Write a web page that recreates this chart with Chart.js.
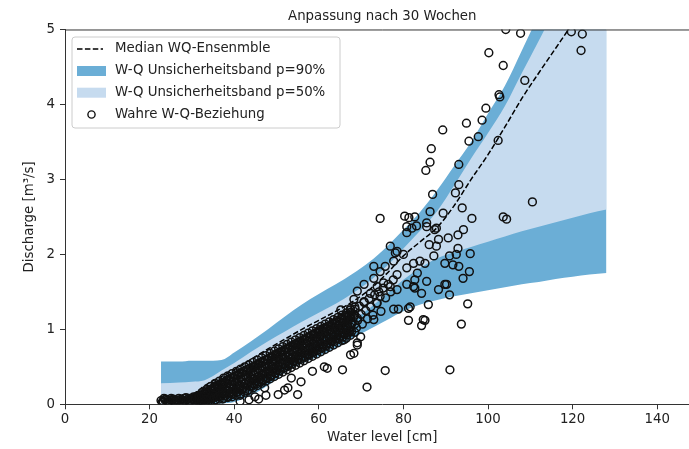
<!DOCTYPE html>
<html>
<head>
<meta charset="utf-8">
<script src="https://cdn.jsdelivr.net/npm/chart.js@4"></script>
<style>
  html, body { margin: 0; padding: 0; width: 689px; height: 449px; overflow: hidden; background: #fff; }
  canvas { display: block; }
</style>
</head>
<body>
<canvas id="wqChart" width="705" height="449"></canvas>
<script>
// Water level grid used for the ensemble bands [cm]
const bandLevel = [22.7, 27, 30, 33, 37, 40, 44, 48, 52, 56, 60, 64, 68, 72, 76, 80, 84, 88, 92, 96, 100, 104, 108, 112, 116, 120, 124, 128];
const upper90 = [0.57, 0.57, 0.58, 0.58, 0.59, 0.69, 0.84, 1.0, 1.17, 1.33, 1.47, 1.6, 1.74, 1.9, 2.1, 2.33, 2.57, 2.86, 3.18, 3.5, 3.88, 4.25, 4.72, 5.2, 5.7, 6.2, 6.7, 7.2];
const upper50 = [0.28, 0.29, 0.3, 0.32, 0.45, 0.55, 0.7, 0.84, 0.97, 1.1, 1.22, 1.34, 1.48, 1.64, 1.84, 2.08, 2.32, 2.58, 2.92, 3.28, 3.62, 3.98, 4.42, 4.85, 5.3, 5.8, 6.3, 6.8];
const medianQ = [0.04, 0.07, 0.12, 0.25, 0.37, 0.46, 0.6, 0.74, 0.87, 1.0, 1.12, 1.24, 1.37, 1.53, 1.74, 1.98, 2.17, 2.36, 2.65, 3.0, 3.33, 3.7, 4.08, 4.42, 4.75, 5.08, 5.4, 5.72];
const lower50 = [0.0, 0.0, 0.01, 0.03, 0.06, 0.12, 0.24, 0.38, 0.55, 0.7, 0.84, 0.98, 1.12, 1.28, 1.47, 1.66, 1.82, 1.95, 2.03, 2.1, 2.17, 2.24, 2.31, 2.37, 2.43, 2.49, 2.55, 2.6];
const lower90 = [0, 0, 0, 0, 0.01, 0.03, 0.12, 0.25, 0.42, 0.54, 0.64, 0.75, 0.88, 1.0, 1.12, 1.24, 1.33, 1.39, 1.44, 1.48, 1.52, 1.56, 1.6, 1.63, 1.67, 1.7, 1.73, 1.75];

// observed (true) W-Q pairs: [water level cm, discharge m3/s]
const trueWQ = [
  [22.7,0.05],[23.2,0.04],[23.6,0.06],[24.1,0.05],[24.5,0.03],[24.9,0.06],[25.4,0.05],[25.8,0.04],[26.3,0.06],[26.7,0.05],
  [27.1,0.03],[27.5,0.07],[28,0.05],[28.4,0.04],[28.9,0.06],[29.3,0.08],[29.7,0.05],[30.2,0.07],[30.6,0.04],[30.9,0.1],
  [23.4,0.08],[24.3,0.02],[25.1,0.08],[26,0.02],[26.9,0.08],[27.8,0.02],[28.6,0.09],[29.5,0.03],[30.4,0.1],
  [23,0.03],[23.8,0.07],[24.7,0.04],[25.6,0.07],[26.5,0.03],[27.3,0.06],[28.2,0.08],[29.1,0.04],[29.9,0.08],[30.8,0.06],
  [31.3,0.06],[31.6,0.12],[32,0.05],[32.3,0.09],[32.7,0.14],[33,0.07],[33.3,0.18],[33.6,0.11],[34,0.05],[34.2,0.15],
  [34.5,0.2],[34.8,0.09],[35.1,0.13],[35.4,0.23],[35.6,0.06],[35.9,0.17],[36.2,0.26],[36.5,0.1],[36.8,0.2],[37.1,0.29],
  [37.3,0.07],[37.6,0.14],[37.9,0.24],[38.2,0.32],[38.4,0.1],[38.7,0.18],[39,0.27],[39.2,0.35],[39.5,0.13],[39.8,0.22],
  [40.1,0.38],[40.3,0.3],[40.6,0.16],[40.9,0.25],[41.2,0.41],[41.4,0.12],[41.7,0.33],[42,0.2],[42.3,0.44],[42.5,0.28],
  [42.8,0.37],[43.1,0.18],[43.4,0.47],[43.6,0.31],[43.9,0.4],[44.2,0.24],[44.5,0.5],[44.7,0.34],[45,0.43],[45.3,0.27],
  [45.6,0.53],[45.9,0.37],[46.1,0.46],[46.4,0.3],[46.7,0.57],[47,0.4],[47.2,0.5],[47.5,0.34],[47.8,0.6],[48.1,0.44],
  [48.3,0.53],[48.6,0.37],[48.9,0.64],[49.2,0.48],[49.4,0.57],[49.7,0.41],[50,0.67],[50.3,0.52],[50.5,0.6],[50.8,0.45],
  [51.1,0.7],[51.4,0.56],[51.6,0.63],[51.9,0.49],[52.2,0.74],[52.5,0.59],[52.7,0.66],[53,0.53],[53.3,0.77],[53.6,0.62],
  [53.8,0.7],[54.1,0.57],[54.4,0.8],[54.7,0.65],[54.9,0.73],[55.2,0.6],[55.5,0.84],[55.8,0.69],[56,0.77],[56.3,0.63],
  [56.6,0.87],[56.9,0.72],[57.1,0.8],[57.4,0.66],[57.7,0.9],[58,0.76],[58.2,0.84],[58.5,0.69],[58.8,0.94],[59.1,0.8],
  [59.3,0.87],[59.6,0.72],[59.9,0.98],[60.2,0.83],[60.4,0.91],[60.7,0.76],[61,1.01],[61.3,0.86],[61.5,0.94],[61.8,0.8],
  [62.1,1.04],[62.4,0.9],[62.6,0.98],[62.9,0.84],[63.2,1.08],[63.5,0.93],[63.7,1.01],[64,0.87],[64.3,1.12],[64.6,0.97],
  [64.8,1.05],[65.1,0.9],[65.4,1.15],[65.7,1.0],[65.9,1.09],[66.2,0.94],[66.5,1.19],[66.8,1.04],[67,1.12],[67.3,0.98],
  [67.6,1.23],[67.9,1.08],[68.2,1.16],[68.6,1.27],[68.9,1.02],[69.2,1.12],[69.6,1.31],[70,1.2],[70.3,1.07],[70.7,1.36],
  [71.1,1.25],[71.5,1.14],[71.9,1.41],[72.3,1.3],[72.8,1.19],[73.2,1.46],[73.7,1.35],[74.2,1.5],[74.7,1.24],[75.2,1.55],
  [75.8,1.42],[76.4,1.6],[77,1.5],[77.6,1.66],
  // dense core of the rating curve
  [31.5,0.04],[31.5,0.07],[31.5,0.09],[31.5,0.12],[32.5,0.04],[32.5,0.08],[32.5,0.12],[32.5,0.16],
  [33.5,0.05],[33.5,0.1],[33.5,0.15],[33.5,0.2],[34.5,0.05],[34.5,0.11],[34.5,0.18],[34.5,0.24],
  [35.5,0.06],[35.5,0.13],[35.5,0.21],[35.5,0.28],[36.5,0.07],[36.5,0.15],[36.5,0.23],[36.5,0.31],
  [37.5,0.08],[37.5,0.17],[37.5,0.26],[37.5,0.35],[38.5,0.09],[38.5,0.19],[38.5,0.28],[38.5,0.38],
  [39.5,0.1],[39.5,0.2],[39.5,0.31],[39.5,0.41],[40.5,0.12],[40.5,0.23],[40.5,0.33],[40.5,0.44],
  [41.5,0.14],[41.5,0.25],[41.5,0.36],[41.5,0.47],[42.5,0.16],[42.5,0.27],[42.5,0.39],[42.5,0.5],
  [43.5,0.19],[43.5,0.3],[43.5,0.42],[43.5,0.53],[44.5,0.22],[44.5,0.33],[44.5,0.45],[44.5,0.56],
  [45.5,0.25],[45.5,0.36],[45.5,0.48],[45.5,0.59],[46.5,0.28],[46.5,0.39],[46.5,0.51],[46.5,0.62],
  [47.5,0.31],[47.5,0.42],[47.5,0.54],[47.5,0.65],[48.5,0.34],[48.5,0.45],[48.5,0.57],[48.5,0.68],
  [49.5,0.37],[49.5,0.48],[49.5,0.6],[49.5,0.71],[50.5,0.4],[50.5,0.51],[50.5,0.63],[50.5,0.74],
  [51.5,0.43],[51.5,0.54],[51.5,0.66],[51.5,0.77],[52.5,0.46],[52.5,0.57],[52.5,0.69],[52.5,0.8],
  [53.5,0.49],[53.5,0.6],[53.5,0.72],[53.5,0.83],[54.5,0.52],[54.5,0.63],[54.5,0.75],[54.5,0.86],
  [55.5,0.55],[55.5,0.66],[55.5,0.78],[55.5,0.89],[56.5,0.58],[56.5,0.69],[56.5,0.81],[56.5,0.92],
  [57.5,0.61],[57.5,0.72],[57.5,0.84],[57.5,0.95],[58.5,0.64],[58.5,0.75],[58.5,0.87],[58.5,0.98],
  [59.5,0.67],[59.5,0.78],[59.5,0.9],[59.5,1.01],[60.5,0.7],[60.5,0.81],[60.5,0.93],[60.5,1.04],
  [61.5,0.73],[61.5,0.84],[61.5,0.96],[61.5,1.07],[62.5,0.76],[62.5,0.87],[62.5,0.99],[62.5,1.1],
  [63.5,0.79],[63.5,0.9],[63.5,1.02],[63.5,1.13],[64.5,0.82],[64.5,0.93],[64.5,1.05],[64.5,1.16],
  [65.5,0.85],[65.5,0.96],[65.5,1.08],[65.5,1.19],[66.5,0.88],[66.5,0.99],[66.5,1.11],[66.5,1.22],
  [67.5,0.92],[67.5,1.03],[67.5,1.15],[67.5,1.26],[68.5,0.96],[68.5,1.07],[68.5,1.19],[68.5,1.3],
  [31.75,0.05],[31.75,0.08],[31.75,0.11],[32.75,0.06],[32.75,0.1],[32.75,0.14],[33.75,0.07],[33.75,0.12],[33.75,0.17],
  [34.75,0.08],[34.75,0.15],[34.75,0.21],[35.75,0.1],[35.75,0.17],[35.75,0.25],[36.75,0.11],[36.75,0.19],[36.75,0.27],
  [37.75,0.12],[37.75,0.21],[37.75,0.3],[38.75,0.14],[38.75,0.23],[38.75,0.33],[39.75,0.15],[39.75,0.26],[39.75,0.36],
  [40.75,0.17],[40.75,0.28],[40.75,0.39],[41.75,0.19],[41.75,0.3],[41.75,0.42],[42.75,0.21],[42.75,0.33],[42.75,0.45],
  [43.75,0.24],[43.75,0.36],[43.75,0.48],[44.75,0.27],[44.75,0.39],[44.75,0.51],[45.75,0.3],[45.75,0.42],[45.75,0.54],
  [46.75,0.33],[46.75,0.45],[46.75,0.57],[47.75,0.36],[47.75,0.48],[47.75,0.6],[48.75,0.39],[48.75,0.51],[48.75,0.63],
  [49.75,0.42],[49.75,0.54],[49.75,0.66],[50.75,0.45],[50.75,0.57],[50.75,0.69],[51.75,0.48],[51.75,0.6],[51.75,0.72],
  [52.75,0.51],[52.75,0.63],[52.75,0.75],[53.75,0.54],[53.75,0.66],[53.75,0.78],[54.75,0.57],[54.75,0.69],[54.75,0.81],
  [55.75,0.6],[55.75,0.72],[55.75,0.84],[56.75,0.63],[56.75,0.75],[56.75,0.87],[57.75,0.66],[57.75,0.78],[57.75,0.9],
  [58.75,0.69],[58.75,0.81],[58.75,0.93],[59.75,0.72],[59.75,0.84],[59.75,0.96],[60.75,0.75],[60.75,0.87],[60.75,0.99],
  [61.75,0.78],[61.75,0.9],[61.75,1.02],[62.75,0.81],[62.75,0.93],[62.75,1.05],[63.75,0.84],[63.75,0.96],[63.75,1.08],
  [64.75,0.87],[64.75,0.99],[64.75,1.11],[65.75,0.9],[65.75,1.02],[65.75,1.14],[66.75,0.93],[66.75,1.05],[66.75,1.17],
  [67.75,0.97],[67.75,1.09],[67.75,1.21],
  [32.25,0.05],[32.25,0.11],[33.25,0.07],[33.25,0.15],[34.25,0.08],[34.25,0.19],[35.25,0.09],[35.25,0.22],
  [36.25,0.11],[36.25,0.25],[37.25,0.13],[37.25,0.29],[38.25,0.14],[38.25,0.32],[39.25,0.16],[39.25,0.35],
  [40.25,0.18],[40.25,0.38],[41.25,0.2],[41.25,0.41],[42.25,0.22],[42.25,0.44],[43.25,0.25],[43.25,0.47],
  [44.25,0.28],[44.25,0.5],[45.25,0.31],[45.25,0.53],[46.25,0.34],[46.25,0.56],[47.25,0.37],[47.25,0.59],
  [48.25,0.4],[48.25,0.62],[49.25,0.43],[49.25,0.65],[50.25,0.46],[50.25,0.68],[51.25,0.49],[51.25,0.71],
  [52.25,0.52],[52.25,0.74],[53.25,0.55],[53.25,0.77],[54.25,0.58],[54.25,0.8],[55.25,0.61],[55.25,0.83],
  [56.25,0.64],[56.25,0.86],[57.25,0.67],[57.25,0.89],[58.25,0.7],[58.25,0.92],[59.25,0.73],[59.25,0.95],
  [60.25,0.76],[60.25,0.98],[61.25,0.79],[61.25,1.01],[62.25,0.82],[62.25,1.04],[63.25,0.85],[63.25,1.07],
  [64.25,0.88],[64.25,1.1],[65.25,0.91],[65.25,1.13],[66.25,0.94],[66.25,1.16],[67.25,0.97],[67.25,1.19],
  // scattered low values
  [41.4,0.04],[43.5,0.06],[45.8,0.07],[47.5,0.12],[44.9,0.10],[50.4,0.13],[55,0.13],[52.7,0.22],[47.2,0.22],[51.9,0.19],
  [53.5,0.35],[55.8,0.3],[58.5,0.44],[62,0.48],[65.6,0.46],[61.3,0.5],[67.5,0.66],[68.3,0.68],[71.4,0.23],[75.7,0.45],
  [91,0.46],[93.7,1.07],[95.2,1.34],[81.2,1.12],[84.3,1.05],[85.1,1.12],[85.9,1.33],[77.7,1.27],[78.8,1.27],[81.6,1.3],
  [69.1,0.79],[69.9,0.9],[73,1.13],[66,0.86],[84.7,1.13],[66.7,0.97],[69.1,0.82],[69.1,1.15],[65.2,1.26],[67.5,1.28],
  [81.2,1.28],[68.3,1.4],[70.7,1.37],[72.2,1.48],[74.5,1.44],
  // scattered high values
  [104.2,5.0],[107.7,4.95],[100.2,4.69],[103.6,4.52],[108.7,4.32],[102.6,4.13],[102.8,4.1],[99.5,3.95],[98.6,3.79],[94.9,3.75],
  [89.3,3.66],[97.7,3.57],[102.4,3.52],[95.5,3.51],[86.6,3.41],[86.3,3.23],[85.3,3.12],[93.1,3.2],[93.1,2.93],[92.3,2.82],
  [86.9,2.8],[110.5,2.7],[103.6,2.5],[104.4,2.47],[93.9,2.62],[96.2,2.48],[89.4,2.55],[86.3,2.57],[74.5,2.48],[80.3,2.51],
  [81.3,2.49],[82.7,2.5],[83.1,2.38],[80.8,2.37],[85.5,2.37],[87.8,2.35],[94.2,2.33],[92.9,2.26],[90.6,2.22],[88.3,2.2],
  [86.1,2.13],[92.9,2.08],[95.8,2.01],[87.2,1.98],[90.9,1.98],[92.5,2.0],[91.7,1.86],[89.8,1.88],[93.1,1.84],[95.6,1.77],
  [94.1,1.68],[90.2,1.6],[88.3,1.53],[84.3,1.48],[82.4,1.57],[85.5,1.64],[83.3,1.75],[85.1,1.88],[73,1.84],[76.9,2.11],
  [78.1,2.02],[119.7,4.97],[122.3,4.94],[122,4.72],[80.8,2.29],[77.7,1.91],[83.9,1.91],[75.7,1.84],[74.5,1.77],[78.5,1.73],
  [73,1.68],[82.7,1.66],[70.7,1.6],[69.1,1.51],[73.8,1.35],[82,2.35],[85.5,2.42],[87.4,2.33],[87.8,2.11],[78.5,2.04],
  [80,2.0],[82.4,1.88],[80.8,1.82],[75.3,1.62],[80.8,1.6],[73.8,1.57],[76.9,1.57],[78.5,1.53],[82.7,1.55],[89.8,1.6],
  [90.9,1.46]
];

const FONT = 'DejaVu Sans';
const TXT = '#222';
const DARK = 'rgb(107,174,214)';
const LIGHT = 'rgb(198,219,239)';

const band = (ys) => bandLevel.map((x, i) => ({ x, y: ys[i] }));
const bandStyle = { borderWidth: 0, pointRadius: 0, cubicInterpolationMode: 'monotone' };

// matplotlib-like legend box inside the axes + top spine
const frameLegend = {
  id: 'frameLegend',
  afterDraw(chart) {
    const { ctx, chartArea: a } = chart;
    ctx.save();
    ctx.strokeStyle = '#333';
    ctx.lineWidth = 1;
    ctx.beginPath();
    ctx.moveTo(a.left, a.top + 0.5);
    ctx.lineTo(a.right, a.top + 0.5);
    ctx.stroke();

    ctx.fillStyle = 'rgba(255,255,255,0.8)';
    ctx.strokeStyle = '#cccccc';
    ctx.beginPath();
    ctx.roundRect(72, 37, 268, 91, 3);
    ctx.fill();
    ctx.stroke();

    const rows = [49, 71, 92.7, 114.5];
    ctx.strokeStyle = '#000';
    ctx.lineWidth = 1.5;
    ctx.setLineDash([5.5, 2.4]);
    ctx.beginPath();
    ctx.moveTo(77, rows[0]);
    ctx.lineTo(103, rows[0]);
    ctx.stroke();
    ctx.setLineDash([]);
    ctx.fillStyle = DARK;
    ctx.fillRect(77, rows[1] - 5, 29, 10);
    ctx.fillStyle = LIGHT;
    ctx.fillRect(77, rows[2] - 5, 29, 10);
    ctx.lineWidth = 1.4;
    ctx.strokeStyle = '#111';
    ctx.beginPath();
    ctx.arc(91.5, rows[3], 3.6, 0, Math.PI * 2);
    ctx.stroke();

    ctx.fillStyle = TXT;
    ctx.font = `13.33px "${FONT}"`;
    ctx.textBaseline = 'middle';
    ctx.textAlign = 'left';
    [1, 4, 2, 0].forEach((di, r) => ctx.fillText(chart.data.datasets[di].label, 115, rows[r]));
    ctx.restore();
  },
};

new Chart(document.getElementById('wqChart'), {
  type: 'line',
  data: {
    datasets: [
      {
        label: 'Wahre W-Q-Beziehung',
        data: trueWQ.map(([x, y]) => ({ x, y })),
        showLine: false,
        pointRadius: 3.9,
        pointBorderWidth: 1.5,
        pointBorderColor: '#111',
        pointBackgroundColor: 'rgba(0,0,0,0)',
        clip: 0,
      },
      {
        label: 'Median WQ-Ensenmble',
        data: band(medianQ),
        borderColor: '#000',
        borderWidth: 1.5,
        borderDash: [5.5, 2.4],
        pointRadius: 0,
        cubicInterpolationMode: 'monotone',
      },
      { label: 'W-Q Unsicherheitsband p=50%', data: band(upper50), fill: '+1', backgroundColor: LIGHT, ...bandStyle },
      { label: 'lower50', data: band(lower50), fill: false, ...bandStyle },
      { label: 'W-Q Unsicherheitsband p=90%', data: band(upper90), fill: '+1', backgroundColor: DARK, ...bandStyle },
      { label: 'lower90', data: band(lower90), fill: false, ...bandStyle },
    ],
  },
  options: {
    responsive: false,
    animation: false,
    events: [],
    layout: { padding: { left: 0, right: 0.7, top: 0, bottom: 0 } },
    plugins: {
      legend: { display: false },
      tooltip: { enabled: false },
      title: {
        display: true,
        text: 'Anpassung nach 30 Wochen',
        fullSize: false,
        color: TXT,
        font: { family: FONT, size: 13.33, weight: 'normal' },
        padding: { top: 9, bottom: 4.5 },
      },
    },
    scales: {
      x: {
        type: 'linear',
        min: 0,
        max: 150,
        afterFit: (s) => { s.height = 44.7; },
        ticks: { stepSize: 20, includeBounds: false, padding: 2, color: TXT, font: { family: FONT, size: 13.33 } },
        grid: { display: true, drawOnChartArea: false, tickLength: 5, color: '#333' },
        border: { display: true, color: '#333', width: 1 },
        title: { display: true, text: 'Water level [cm]', color: TXT, font: { family: FONT, size: 13.33 }, padding: { top: 0, bottom: 3 } },
      },
      y: {
        min: 0,
        max: 5,
        afterFit: (s) => { s.width = 65; },
        ticks: { stepSize: 1, padding: 5, color: TXT, font: { family: FONT, size: 13.33 } },
        grid: { display: true, drawOnChartArea: false, tickLength: 5, color: '#333' },
        border: { display: true, color: '#333', width: 1 },
        title: { display: true, text: 'Discharge [m³/s]', color: TXT, font: { family: FONT, size: 13.33 }, padding: { top: 22, bottom: 0 } },
      },
    },
  },
  plugins: [frameLegend],
});
</script>
</body>
</html>
